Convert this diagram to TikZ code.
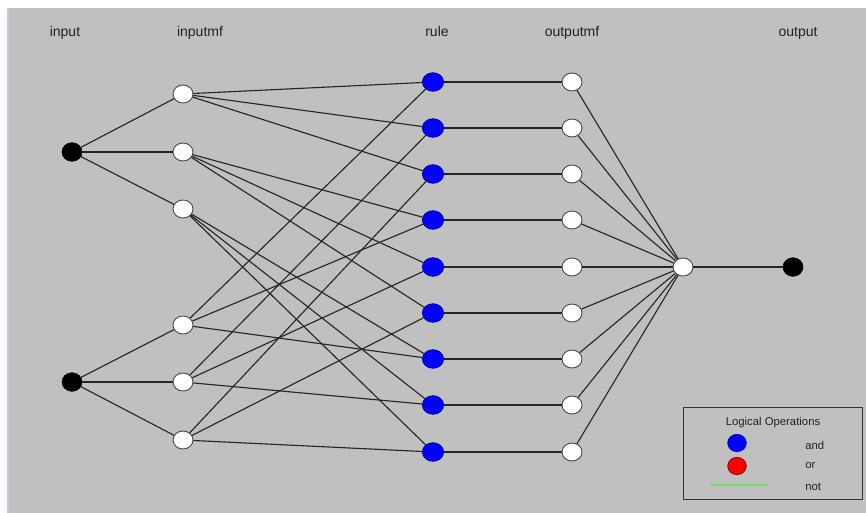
\documentclass[tikz,border=0pt]{standalone}
\usepackage{fontspec}
\setmainfont{Liberation Sans}
\usetikzlibrary{shapes.geometric}
\definecolor{bg}{HTML}{C0C0C0}
\definecolor{edgec}{HTML}{262626}
\definecolor{txt}{HTML}{222222}
\definecolor{sidel}{RGB}{190,205,225}
\definecolor{andfill}{RGB}{0,0,255}
\definecolor{anddraw}{RGB}{0,0,150}
\definecolor{orfill}{RGB}{255,0,0}
\definecolor{ordraw}{RGB}{120,0,0}
\definecolor{notc}{RGB}{110,220,110}
\begin{document}
\begin{tikzpicture}[x=0.75pt,y=-0.75pt,
  wnode/.style={ellipse,draw=black!70,fill=white,line width=0.7pt,minimum width=15pt,minimum height=13.5pt,inner sep=0pt},
  bnode/.style={ellipse,draw=black,fill=black,minimum width=15pt,minimum height=14pt,inner sep=0pt},
  rnode/.style={ellipse,draw=anddraw,fill=andfill,line width=0.5pt,minimum width=16pt,minimum height=14pt,inner sep=0pt},
  rednode/.style={ellipse,draw=ordraw,fill=orfill,line width=0.5pt,minimum width=16pt,minimum height=14pt,inner sep=0pt},
  conn/.style={draw=edgec,line width=0.85pt},
  lbl/.style={text=txt,font=\fontsize{10.5}{12}\selectfont,inner sep=0pt,anchor=base},
  leg/.style={text=txt,font=\fontsize{8.5}{10}\selectfont,inner sep=0pt}]
\path[use as bounding box] (0,0) rectangle (866,513);
\fill[white] (0,0) rectangle (866,513);
\fill[bg] (8,8) rectangle (866,513);
\draw[sidel,line width=0.8pt] (8,8) -- (8,513);
% labels
\node[lbl] (Linput) at (65,37) {input};
\node[lbl] (Linmf) at (200,37) {inputmf};
\node[lbl] (Lrule) at (437,37) {rule};
\node[lbl] (Loutmf) at (572,37) {outputmf};
\node[lbl] (Loutput) at (798,37) {output};
% nodes
\node[bnode] (in1) at (72,152) {};
\node[bnode] (in2) at (72,382) {};
\node[wnode] (a1) at (183,94) {};
\node[wnode] (a2) at (183,152) {};
\node[wnode] (a3) at (183,209) {};
\node[wnode] (b1) at (183,325) {};
\node[wnode] (b2) at (183,382) {};
\node[wnode] (b3) at (183,440) {};
\foreach \i/\y in {1/82,2/128,3/174,4/220,5/267,6/313,7/359,8/405,9/452}{
  \node[rnode] (r\i) at (433,\y) {};
  \node[wnode] (o\i) at (572,\y) {};
}
\node[wnode] (agg) at (683,267) {};
\node[bnode] (out) at (793,267) {};
% connections
\foreach \m in {a1,a2,a3}{\draw[conn] (in1) -- (\m);}
\foreach \m in {b1,b2,b3}{\draw[conn] (in2) -- (\m);}
\foreach \i in {1,2,3}{\draw[conn] (a1) -- (r\i);}
\foreach \i in {4,5,6}{\draw[conn] (a2) -- (r\i);}
\foreach \i in {7,8,9}{\draw[conn] (a3) -- (r\i);}
\foreach \i in {1,4,7}{\draw[conn] (b1) -- (r\i);}
\foreach \i in {2,5,8}{\draw[conn] (b2) -- (r\i);}
\foreach \i in {3,6,9}{\draw[conn] (b3) -- (r\i);}
\foreach \i in {1,...,9}{\draw[conn] (r\i) -- (o\i); \draw[conn] (o\i) -- (agg);}
\draw[conn] (agg) -- (out);
% legend
\node[draw=black!80,line width=0.7pt,minimum width=134.25pt,minimum height=69pt,inner sep=0pt] (legbox) at (772.5,453) {};
\node[leg] (legt) at (773,423) {Logical Operations};
\node[rnode,minimum width=14pt,minimum height=13pt] (legand) at (737,443) {};
\node[rednode,minimum width=14pt,minimum height=13pt] (legor) at (737,466) {};
\coordinate (gl1) at (710,485);
\coordinate (gl2) at (767,485);
\draw[notc,line width=1pt] (gl1) -- (gl2);
\node[leg,anchor=west] (tand) at (805,445) {and};
\node[leg,anchor=west] (tor) at (805,466) {or};
\node[leg,anchor=west] (tnot) at (805,487) {not};
\end{tikzpicture}
\end{document}
